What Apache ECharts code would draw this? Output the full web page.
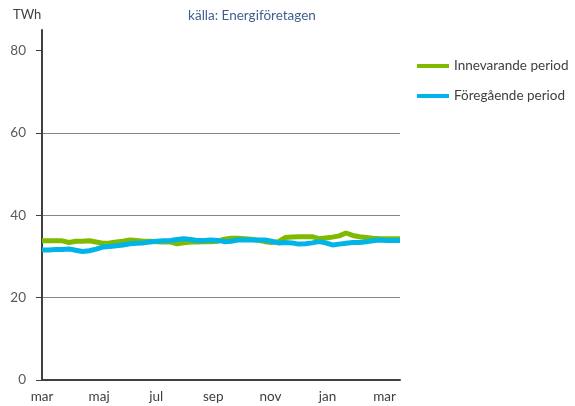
<!DOCTYPE html>
<html><head><meta charset="utf-8">
<script src="https://cdn.jsdelivr.net/npm/echarts@6/dist/echarts.min.js"></script>
<style>html,body{margin:0;padding:0;background:#fff}#c{width:575px;height:406px}</style>
</head><body><div id="c"></div>
<script>
const monthLabels = ['mar','maj','jul','sep','nov','jan','mar'];
const yTicks = [0,20,40,60,80];
const weeks = Array.from({length:54},(_,i)=>'v'+(i+1));
const current = [33.8,33.8,33.8,33.8,33.4,33.7,33.7,33.8,33.5,33.2,33.3,33.5,33.7,34.0,33.9,33.7,33.7,33.6,33.5,33.5,33.1,33.3,33.5,33.5,33.6,33.6,33.7,34.2,34.4,34.4,34.3,34.2,33.9,33.6,33.4,33.6,34.6,34.7,34.8,34.8,34.8,34.3,34.5,34.7,35.0,35.7,35.1,34.8,34.6,34.4,34.3,34.3,34.3,34.3];
const previous = [31.6,31.6,31.7,31.7,31.8,31.5,31.2,31.4,31.8,32.3,32.4,32.6,32.8,33.1,33.2,33.3,33.5,33.7,33.8,33.9,34.1,34.3,34.1,33.9,33.9,34.0,33.9,33.6,33.7,34.0,34.0,34.0,34.0,34.0,33.7,33.3,33.4,33.3,33.0,33.1,33.3,33.6,33.3,32.8,33.0,33.2,33.4,33.4,33.6,33.8,34.0,33.9,33.9,33.9];
const seriesNames = ['Innevarande period','Föregående period'];
const FONT = 'Lato';
const chart = echarts.init(document.getElementById('c'));
chart.setOption({
  animation:false,
  textStyle:{fontFamily:FONT},
  title:[
    {text:'TWh', left:8, top:3, textStyle:{fontFamily:FONT,fontSize:13,fontWeight:'normal',color:'#404040'}},
    {text:'källa: Energiföretagen', left:247, top:4, textAlign:'center', textStyle:{fontFamily:FONT,fontSize:13.5,fontWeight:'normal',color:'#3f5f8f'}}
  ],
  legend:{orient:'vertical', left:412, top:54, itemWidth:32, itemHeight:4, itemGap:16, icon:'rect',
    textStyle:{fontFamily:FONT,fontSize:13.5,color:'#404040'},
    data:seriesNames},
  grid:{left:42, right:175, top:30, bottom:26, containLabel:false},
  xAxis:[
    {type:'value', min:0, max:12.54, interval:2, position:'bottom',
     axisLine:{show:true,lineStyle:{color:'#404040',width:2}},
     axisTick:{show:false}, splitLine:{show:false},
     axisLabel:{margin:10, fontFamily:FONT, fontSize:13.5, color:'#404040',
       customValues:[0,2,4,6,8,10,12],
       formatter:v=>monthLabels[Math.round(v/2)]||''}},
    {type:'category', data:weeks, boundaryGap:false, show:false}
  ],
  yAxis:{type:'value', min:0, max:85, interval:20,
    axisLine:{show:true,lineStyle:{color:'#404040',width:2}},
    axisTick:{show:true,length:6,lineStyle:{color:'#404040'},customValues:yTicks},
    axisLabel:{margin:16,fontFamily:FONT,fontSize:13.5,color:'#595959',customValues:yTicks},
    splitLine:{show:true,showMaxLine:false,showMinLine:false,lineStyle:{color:'#868686',width:1}}},
  series:[
    {name:seriesNames[0], type:'line', xAxisIndex:1, data:current, showSymbol:false, symbol:'none',
     lineStyle:{width:5,color:'#7fba00'}, itemStyle:{color:'#7fba00'}},
    {name:seriesNames[1], type:'line', xAxisIndex:1, data:previous, showSymbol:false, symbol:'none',
     lineStyle:{width:5,color:'#00b4e8'}, itemStyle:{color:'#00b4e8'}}
  ]
});
</script></body></html>
